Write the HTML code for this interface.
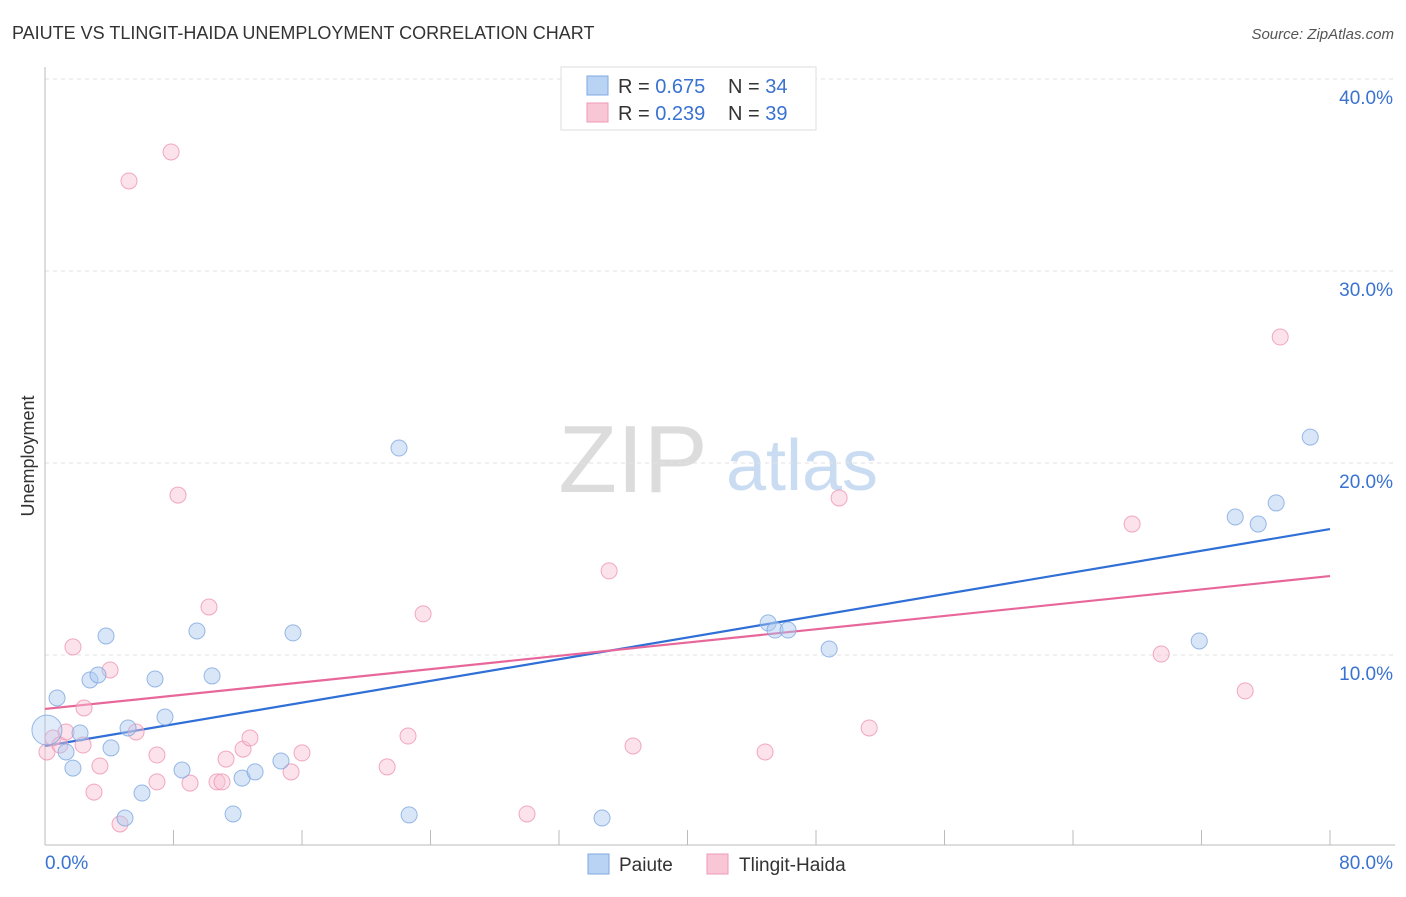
<!DOCTYPE html>
<html><head><meta charset="utf-8"><style>
body{margin:0;background:#fff;font-family:"Liberation Sans",sans-serif;}
svg text{font-family:"Liberation Sans",sans-serif;}
</style></head><body>
<svg id="chart" width="1406" height="892">
<text x="12" y="39" font-size="18" fill="#333">PAIUTE VS TLINGIT-HAIDA UNEMPLOYMENT CORRELATION CHART</text>
<text x="1394" y="39" font-size="15" fill="#555" font-style="italic" text-anchor="end">Source: ZipAtlas.com</text>
<text transform="translate(34,456) rotate(-90)" font-size="18" fill="#333" text-anchor="middle">Unemployment</text>
<g>
<text x="633" y="492" font-size="96" font-family="Liberation Serif" fill="#dcdcdc" text-anchor="middle">ZIP</text>
<text x="802" y="490" font-size="72" fill="#cadcf2" text-anchor="middle">atlas</text>
</g>
<g id="grid"></g><g id="axes"></g><g id="trend"></g><g id="points"></g>
<g>
<rect x="561" y="67" width="255" height="63" fill="#fff" stroke="#ddd"/>
<rect x="587" y="76" width="21" height="19" fill="#b9d3f5" stroke="#7fa8e0"/>
<rect x="587" y="103" width="21" height="19" fill="#f9c6d5" stroke="#ee9ab5"/>
<text x="618" y="93" font-size="20" fill="#333">R = <tspan fill="#3a72d0">0.675</tspan></text>
<text x="728" y="93" font-size="20" fill="#333">N = <tspan fill="#3a72d0">34</tspan></text>
<text x="618" y="120" font-size="20" fill="#333">R = <tspan fill="#3a72d0">0.239</tspan></text>
<text x="728" y="120" font-size="20" fill="#333">N = <tspan fill="#3a72d0">39</tspan></text>
</g>
<g>
<rect x="588" y="854" width="21" height="20" fill="#b9d3f5" stroke="#7fa8e0"/>
<text x="619" y="871" font-size="19" fill="#333">Paiute</text>
<rect x="707" y="854" width="21" height="20" fill="#f9c6d5" stroke="#ee9ab5"/>
<text x="739" y="871" font-size="19" fill="#333">Tlingit-Haida</text>
</g>
</svg>
<script>
const yTicks=[10,20,30,40];
const yTickLabels=["10.0%","20.0%","30.0%","40.0%"];
const xTicks=[0,8,16,24,32,40,48,56,64,72,80];
const paiuteX=[0.12,0.75,1.31,1.74,2.18,2.80,3.30,3.80,4.11,4.98,5.17,6.04,6.85,7.47,8.53,9.46,10.40,11.71,12.27,13.08,14.69,15.44,22.04,22.67,34.68,45.02,45.45,46.26,48.82,71.86,74.10,75.53,76.65,78.77];
const paiuteY=[6.09,7.76,4.95,4.11,5.94,8.70,8.96,10.99,5.16,1.51,6.20,2.81,8.75,6.77,4.01,11.25,8.91,1.72,3.59,3.91,4.48,11.15,20.78,1.67,1.51,11.67,11.30,11.30,10.31,10.73,17.19,16.82,17.92,21.35];
const tlingitX=[0.12,0.50,0.93,1.31,1.74,2.43,2.37,3.05,3.42,4.05,4.67,5.23,5.67,6.97,6.97,7.85,8.28,9.03,10.21,10.71,11.02,11.27,12.33,12.76,15.32,16.00,21.30,22.60,23.54,30.01,35.12,36.61,44.83,49.44,51.31,67.68,69.49,74.72,76.90];
const tlingitY=[4.95,5.68,5.31,5.99,10.42,7.24,5.31,2.86,4.22,9.22,1.20,34.69,5.99,4.79,3.39,36.20,18.33,3.33,12.50,3.39,3.39,4.58,5.10,5.68,3.91,4.90,4.17,5.78,12.14,1.72,14.38,5.26,4.95,18.18,6.20,16.82,10.05,8.13,26.56];
const paiuteTrend=[5.26,16.56];
const tlingitTrend=[7.19,14.11];
const NS="http://www.w3.org/2000/svg";
const sx=v=>45+v*(1285/80);
const sy=v=>847-v*19.2;
function mk(tag,attrs,parent){const e=document.createElementNS(NS,tag);for(const k in attrs)e.setAttribute(k,attrs[k]);document.getElementById(parent).appendChild(e);return e;}
yTicks.forEach((t,i)=>{
 const l=mk('line',{x1:45,x2:1395,y1:sy(t),y2:sy(t),stroke:'#e2e2e2','stroke-dasharray':'4,4'},'grid');
 
 
 const tx=mk('text',{x:1393,y:sy(t)+25,'font-size':19,fill:'#3a72d0','text-anchor':'end'},'grid');
 tx.textContent=yTickLabels[i];
 
 
});
const ax=mk('line',{x1:45,x2:1395,y1:845,y2:845,stroke:'#bbb'},'axes');


const ay=mk('line',{x1:45,x2:45,y1:67,y2:845,stroke:'#bbb'},'axes');


xTicks.forEach(t=>{
 const l=mk('line',{x1:sx(t),x2:sx(t),y1:830,y2:845,stroke:'#bbb'},'axes');
 
 
});
const xl0=mk('text',{x:45,y:869,'font-size':19,fill:'#3a72d0'},'axes');xl0.textContent='0.0%';


const xl1=mk('text',{x:1393,y:869,'font-size':19,fill:'#3a72d0','text-anchor':'end'},'axes');xl1.textContent='80.0%';


function pts(X,Y,fill,stroke,name){
 X.forEach((x,i)=>{
  const big=(name==='paiute-point'&&i===0);
  const c=mk('circle',{cx:sx(x),cy:sy(Y[i]),r:big?15:8,fill:fill,'fill-opacity':big?0.35:0.45,stroke:stroke,'stroke-opacity':0.8,'stroke-width':1},'points');
  
  
 });
}
pts(tlingitX,tlingitY,'#f9c0d2','#ee94b2','tlingit-haida-point');
pts(paiuteX,paiuteY,'#a9c8f0','#7fa8e0','paiute-point');
const t1=mk('line',{x1:sx(0),x2:sx(80),y1:sy(paiuteTrend[0]),y2:sy(paiuteTrend[1]),stroke:'#2f6fd6','stroke-width':2.2},'trend');


const t2=mk('line',{x1:sx(0),x2:sx(80),y1:sy(tlingitTrend[0]),y2:sy(tlingitTrend[1]),stroke:'#e8679a','stroke-width':2.2},'trend');


</script>
</body></html>
